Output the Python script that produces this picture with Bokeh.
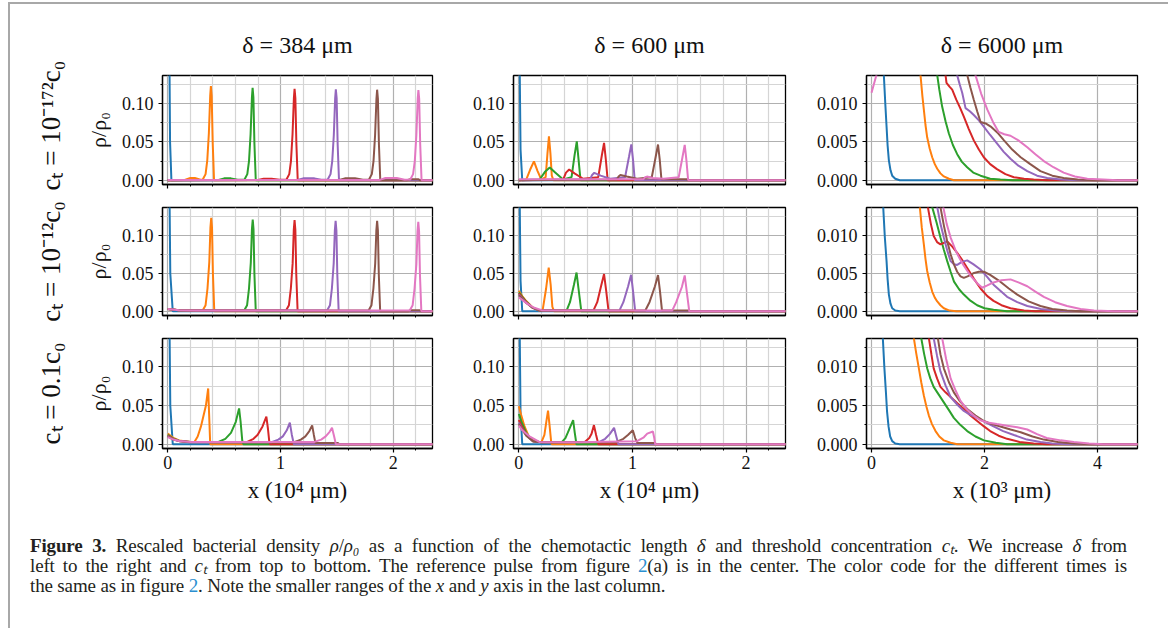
from bokeh.plotting import figure
from bokeh.models import Range1d, FixedTicker, NumeralTickFormatter, Title, Div, CustomLabelingPolicy
from bokeh.layouts import row, column
from bokeh.embed import file_html
from bokeh.resources import INLINE

# ---------------- data ----------------
COLORS = ["#1f77b4", "#ff7f0e", "#2ca02c", "#d62728", "#9467bd", "#8c564b", "#e377c2"]

COL_TITLES = ["δ = 384 μm", "δ = 600 μm", "δ = 6000 μm"]
ROW_LABELS = ["cₜ = 10⁻¹⁷²c₀", "cₜ = 10⁻¹²c₀", "cₜ = 0.1c₀"]
X_LABELS = ["x (10⁴ μm)", "x (10⁴ μm)", "x (10³ μm)"]
Y_LABEL = "ρ/ρ₀"

X_MAJOR = [[0, 1, 2], [0, 1, 2], [0, 2, 4]]
X_MINOR = [[0.2, 0.4, 0.6, 0.8, 1.2, 1.4, 1.6, 1.8, 2.2],
           [0.2, 0.4, 0.6, 0.8, 1.2, 1.4, 1.6, 1.8, 2.2], []]
Y_MAJOR = [[0, 0.05, 0.10], [0, 0.05, 0.10], [0, 0.005, 0.010]]
Y_MINOR = [[0.025, 0.075, 0.125], [0.025, 0.075, 0.125], [0.0025, 0.0075, 0.0125]]
Y_FORMAT = ["0.00", "0.00", "0.000"]
X_LIMITS = [(-0.047, 2.347), (-0.047, 2.347), (-0.089, 4.708)]
Y_LIMITS = [(-0.0055, 0.1365), (-0.0055, 0.1365), (-0.00055, 0.01365)]

# row 1, column 1  (delta = 384 um, ct = 1e-172 c0)
R1C1_X = [
    [0.0, 0.008, 0.014, 0.02, 0.032, 2.35],
    [0.0, 0.15, 0.2, 0.24, 0.29, 0.31, 0.335, 0.35, 0.364, 0.376, 0.382, 0.389, 0.398, 0.41, 2.35],
    [0.0, 0.45, 0.5, 0.56, 0.62, 0.68, 0.705, 0.72, 0.734, 0.746, 0.752, 0.759, 0.768, 0.78, 2.35],
    [0.0, 0.8, 0.85, 0.92, 0.99, 1.052, 1.077, 1.092, 1.106, 1.118, 1.124, 1.131, 1.14, 1.152, 2.35],
    [0.0, 1.15, 1.2, 1.3, 1.36, 1.418, 1.443, 1.458, 1.472, 1.484, 1.49, 1.497, 1.506, 1.518, 2.35],
    [0.0, 1.52, 1.57, 1.66, 1.73, 1.784, 1.809, 1.824, 1.838, 1.85, 1.856, 1.863, 1.872, 1.884, 2.12, 2.15, 2.22, 2.24, 2.35],
    [0.0, 1.88, 1.93, 2.03, 2.1, 2.15, 2.175, 2.19, 2.204, 2.216, 2.222, 2.229, 2.238, 2.25, 2.35],
]
R1C1_Y = [
    [0.6, 0.35, 0.17, 0.05, 0.0, 0.0],
    [0.0, 0.0005, 0.003, 0.003, 0.0008, 0.001, 0.008, 0.026, 0.061, 0.11, 0.1227, 0.11, 0.05, 0.0, 0.0],
    [0.0, 0.0005, 0.0025, 0.0025, 0.0008, 0.001, 0.008, 0.025, 0.06, 0.108, 0.1205, 0.108, 0.048, 0.0, 0.0],
    [0.0, 0.0005, 0.002, 0.002, 0.0008, 0.001, 0.008, 0.025, 0.06, 0.107, 0.119, 0.107, 0.048, 0.0, 0.0],
    [0.0, 0.0005, 0.0025, 0.0025, 0.0008, 0.001, 0.008, 0.025, 0.059, 0.107, 0.1185, 0.107, 0.047, 0.0, 0.0],
    [0.0, 0.0005, 0.0025, 0.0025, 0.0008, 0.001, 0.008, 0.025, 0.059, 0.106, 0.118, 0.106, 0.047, 0.0, 0.0, 0.0015, 0.0015, 0.0, 0.0],
    [0.0005, 0.0005, 0.003, 0.003, 0.0008, 0.001, 0.008, 0.025, 0.059, 0.106, 0.1175, 0.106, 0.047, 0.0, 0.0],
]

# row 2, column 1  (delta = 384 um, ct = 1e-12 c0)
R2C1_X = [
    [0.0, 0.008, 0.014, 0.022, 0.044, 2.35],
    [0.0, 0.1, 0.25, 0.309, 0.335, 0.352, 0.368, 0.378, 0.385, 0.392, 0.4, 0.412, 2.35],
    [0.0, 0.1, 0.25, 0.677, 0.703, 0.72, 0.736, 0.746, 0.753, 0.76, 0.768, 0.78, 2.35],
    [0.0, 0.1, 0.25, 1.048, 1.074, 1.091, 1.107, 1.117, 1.124, 1.131, 1.139, 1.151, 2.35],
    [0.0, 0.1, 0.25, 1.412, 1.438, 1.455, 1.471, 1.481, 1.488, 1.495, 1.503, 1.515, 2.35],
    [0.0, 0.1, 0.25, 1.78, 1.806, 1.823, 1.839, 1.849, 1.856, 1.863, 1.871, 1.883, 2.13, 2.15, 2.23, 2.25, 2.35],
    [0.0, 0.1, 0.25, 2.145, 2.171, 2.188, 2.204, 2.214, 2.221, 2.228, 2.236, 2.248, 2.35],
]
R2C1_Y = [
    [0.6, 0.35, 0.17, 0.05, 0.0, 0.0],
    [0.003, 0.0015, 0.001, 0.001, 0.008, 0.03, 0.065, 0.11, 0.1228, 0.11, 0.05, 0.0, 0.0],
    [0.003, 0.0015, 0.001, 0.001, 0.008, 0.03, 0.064, 0.108, 0.1207, 0.108, 0.049, 0.0, 0.0],
    [0.003, 0.0015, 0.001, 0.001, 0.008, 0.03, 0.063, 0.107, 0.1198, 0.107, 0.049, 0.0, 0.0],
    [0.003, 0.0015, 0.001, 0.001, 0.008, 0.03, 0.063, 0.106, 0.119, 0.106, 0.048, 0.0, 0.0],
    [0.003, 0.0015, 0.001, 0.001, 0.008, 0.03, 0.063, 0.106, 0.119, 0.106, 0.048, 0.0, 0.0, 0.0015, 0.0015, 0.0, 0.0],
    [0.003, 0.0015, 0.001, 0.001, 0.008, 0.03, 0.062, 0.105, 0.1175, 0.105, 0.047, 0.0, 0.0],
]

# row 3, column 1  (delta = 384 um, ct = 0.1 c0)
R3C1_X = [
    [0.0, 0.008, 0.014, 0.022, 0.044, 2.35],
    [0.0, 0.05, 0.1, 0.2, 0.236, 0.265, 0.294, 0.338, 0.358, 0.366, 0.376, 2.35],
    [0.0, 0.05, 0.1, 0.2, 0.45, 0.51, 0.56, 0.603, 0.632, 0.645, 0.66, 0.67, 2.35],
    [0.0, 0.05, 0.1, 0.2, 0.7, 0.76, 0.797, 0.84, 0.874, 0.888, 0.9, 0.906, 2.35],
    [0.0, 0.05, 0.1, 0.2, 0.92, 0.98, 1.02, 1.055, 1.082, 1.1, 1.118, 2.35],
    [0.0, 0.05, 0.1, 0.2, 1.12, 1.18, 1.22, 1.255, 1.28, 1.295, 1.309, 1.51, 1.52, 2.35],
    [0.0, 0.05, 0.1, 0.2, 1.3, 1.36, 1.4, 1.435, 1.456, 1.475, 1.49, 2.35],
]
R3C1_Y = [
    [0.6, 0.35, 0.17, 0.05, 0.0, 0.0],
    [0.0137, 0.008, 0.005, 0.003, 0.003, 0.01, 0.023, 0.05, 0.072, 0.04, 0.0, 0.0],
    [0.012, 0.007, 0.0045, 0.003, 0.003, 0.007, 0.0146, 0.029, 0.0463, 0.03, 0.005, 0.0, 0.0],
    [0.011, 0.0065, 0.0043, 0.0028, 0.0028, 0.007, 0.0123, 0.023, 0.0357, 0.02, 0.003, 0.0, 0.0],
    [0.0105, 0.0062, 0.0042, 0.0027, 0.0027, 0.006, 0.0102, 0.018, 0.0278, 0.012, 0.0, 0.0],
    [0.0102, 0.006, 0.004, 0.0026, 0.0026, 0.006, 0.0102, 0.017, 0.0243, 0.012, 0.0015, 0.0015, 0.0, 0.0],
    [0.0092, 0.006, 0.0042, 0.0028, 0.003, 0.006, 0.0102, 0.016, 0.0212, 0.01, 0.0, 0.0],
]

# row 1, column 2  (delta = 600 um, ct = 1e-172 c0)
R1C2_X = [
    [0.0, 0.004, 0.008, 0.015, 0.03, 2.35],
    [0.0, 0.065, 0.1, 0.133, 0.165, 0.198, 0.236, 0.252, 0.265, 0.278, 0.29, 0.305, 2.35],
    [0.0, 0.183, 0.23, 0.272, 0.32, 0.39, 0.464, 0.49, 0.51, 0.525, 0.543, 2.35],
    [0.0, 0.39, 0.415, 0.443, 0.49, 0.566, 0.699, 0.73, 0.75, 0.765, 0.782, 2.35],
    [0.0, 0.626, 0.645, 0.664, 0.72, 0.803, 0.935, 0.97, 0.99, 1.005, 1.02, 2.35],
    [0.0, 0.862, 0.878, 0.894, 0.95, 1.04, 1.17, 1.205, 1.225, 1.24, 1.255, 1.48, 1.49, 2.35],
    [0.0, 1.097, 1.112, 1.127, 1.18, 1.274, 1.407, 1.44, 1.46, 1.475, 1.49, 2.35],
]
R1C2_Y = [
    [0.5, 0.3, 0.14, 0.04, 0.0, 0.0],
    [0.0, 0.001, 0.014, 0.0247, 0.012, 0.001, 0.004, 0.035, 0.0574, 0.035, 0.006, 0.0, 0.0],
    [0.0, 0.001, 0.011, 0.0167, 0.01, 0.001, 0.004, 0.032, 0.0508, 0.028, 0.0, 0.0],
    [0.0, 0.001, 0.01, 0.014, 0.009, 0.002, 0.004, 0.032, 0.0486, 0.028, 0.0, 0.0],
    [0.0, 0.001, 0.007, 0.0097, 0.006, 0.002, 0.004, 0.031, 0.0468, 0.027, 0.0, 0.0],
    [0.0, 0.001, 0.005, 0.007, 0.005, 0.002, 0.004, 0.031, 0.0466, 0.027, 0.0012, 0.0012, 0.0, 0.0],
    [0.0015, 0.0015, 0.004, 0.0048, 0.003, 0.002, 0.004, 0.03, 0.046, 0.026, 0.0, 0.0],
]

# row 2, column 2  (delta = 600 um, ct = 1e-12 c0)
R2C2_X = [
    [0.0, 0.004, 0.008, 0.015, 0.03, 2.35],
    [0.0, 0.03, 0.065, 0.124, 0.18, 0.21, 0.24, 0.263, 0.28, 0.295, 0.31, 2.35],
    [0.0, 0.03, 0.065, 0.124, 0.18, 0.42, 0.45, 0.485, 0.508, 0.525, 0.55, 2.35],
    [0.0, 0.03, 0.065, 0.124, 0.18, 0.656, 0.69, 0.725, 0.75, 0.768, 0.79, 2.35],
    [0.0, 0.03, 0.065, 0.124, 0.18, 0.885, 0.92, 0.962, 0.988, 1.005, 1.024, 2.35],
    [0.0, 0.03, 0.065, 0.124, 0.18, 1.113, 1.15, 1.198, 1.225, 1.242, 1.26, 1.5, 1.51, 2.35],
    [0.0, 0.03, 0.07, 0.13, 0.2, 1.35, 1.385, 1.435, 1.46, 1.478, 1.5, 2.35],
]
R2C2_Y = [
    [0.5, 0.3, 0.14, 0.04, 0.0, 0.0],
    [0.027, 0.02, 0.0135, 0.0046, 0.001, 0.002, 0.03, 0.0576, 0.035, 0.006, 0.0, 0.0],
    [0.025, 0.019, 0.0125, 0.0045, 0.0012, 0.001, 0.012, 0.035, 0.051, 0.03, 0.0, 0.0],
    [0.0235, 0.018, 0.012, 0.0045, 0.0012, 0.001, 0.012, 0.034, 0.049, 0.028, 0.0, 0.0],
    [0.022, 0.017, 0.0115, 0.0045, 0.0012, 0.001, 0.012, 0.033, 0.048, 0.027, 0.0, 0.0],
    [0.021, 0.0165, 0.011, 0.0045, 0.0012, 0.001, 0.012, 0.033, 0.0477, 0.027, 0.001, 0.001, 0.0, 0.0],
    [0.0183, 0.015, 0.0105, 0.005, 0.0015, 0.001, 0.012, 0.032, 0.0471, 0.026, 0.0, 0.0],
]

# row 3, column 2  (delta = 600 um, ct = 0.1 c0)
R3C2_X = [
    [0.0, 0.004, 0.008, 0.015, 0.03, 2.35],
    [0.0, 0.02, 0.05, 0.094, 0.153, 0.2, 0.225, 0.245, 0.257, 0.27, 0.285, 0.29, 2.35],
    [0.0, 0.02, 0.065, 0.124, 0.2, 0.38, 0.41, 0.43, 0.46, 0.478, 0.492, 0.507, 2.35],
    [0.0, 0.02, 0.065, 0.124, 0.2, 0.58, 0.62, 0.64, 0.661, 0.68, 0.7, 2.35],
    [0.0, 0.02, 0.065, 0.124, 0.2, 0.71, 0.76, 0.8, 0.838, 0.858, 0.876, 2.35],
    [0.0, 0.02, 0.065, 0.124, 0.2, 0.86, 0.92, 0.96, 1.003, 1.024, 1.044, 1.2, 1.21, 2.35],
    [0.0, 0.03, 0.094, 0.18, 0.5, 1.04, 1.1, 1.13, 1.18, 1.192, 1.2, 2.35],
]
R3C2_Y = [
    [0.5, 0.3, 0.14, 0.04, 0.0, 0.0],
    [0.049, 0.038, 0.023, 0.008, 0.003, 0.003, 0.012, 0.032, 0.0433, 0.025, 0.002, 0.0, 0.0],
    [0.039, 0.03, 0.0146, 0.004, 0.0025, 0.003, 0.008, 0.0146, 0.025, 0.031, 0.015, 0.0, 0.0],
    [0.0313, 0.025, 0.0125, 0.004, 0.0025, 0.003, 0.008, 0.0135, 0.0247, 0.012, 0.0, 0.0],
    [0.0278, 0.022, 0.0115, 0.004, 0.0025, 0.003, 0.007, 0.013, 0.0212, 0.01, 0.0, 0.0],
    [0.026, 0.021, 0.011, 0.004, 0.0025, 0.003, 0.007, 0.012, 0.018, 0.008, 0.0015, 0.0015, 0.0, 0.0],
    [0.024, 0.018, 0.0102, 0.003, 0.0025, 0.004, 0.009, 0.0137, 0.0164, 0.008, 0.0, 0.0],
]

# row 1, column 3  (delta = 6000 um, ct = 1e-172 c0), x in 10^3 um
R1C3_X = [
    [0.0, 0.19, 0.218, 0.245, 0.266, 0.285, 0.307, 0.336, 0.366, 0.42, 0.5, 4.75],
    [0.0, 0.75, 0.867, 0.9, 0.926, 0.955, 0.985, 1.03, 1.074, 1.12, 1.163, 1.22, 1.28, 1.37, 1.46, 4.75],
    [0.0, 1.0, 1.163, 1.2, 1.25, 1.31, 1.369, 1.44, 1.516, 1.6, 1.693, 1.8, 1.93, 2.1, 2.28, 2.5, 4.75],
    [0.0, 1.2, 1.31, 1.327, 1.38, 1.428, 1.5, 1.57, 1.634, 1.72, 1.81, 1.9, 1.987, 2.1, 2.22, 2.37, 2.52, 2.7, 2.87, 3.1, 4.75],
    [0.0, 1.4, 1.516, 1.56, 1.605, 1.664, 1.74, 1.81, 1.9, 1.987, 2.1, 2.22, 2.34, 2.46, 2.6, 2.757, 2.93, 3.11, 3.35, 3.58, 4.75],
    [0.0, 1.6, 1.694, 1.75, 1.81, 1.87, 1.93, 2.02, 2.11, 2.23, 2.345, 2.49, 2.64, 2.81, 2.99, 3.2, 3.4, 3.65, 3.94, 4.75],
    [0.0, 0.045, 0.09, 0.5, 1.7, 1.84, 1.94, 2.05, 2.15, 2.25, 2.35, 2.46, 2.6, 2.757, 2.9, 3.05, 3.22, 3.4, 3.6, 3.82, 4.1, 4.35, 4.75],
]
R1C3_Y = [
    [0.1, 0.03, 0.0137, 0.0098, 0.007, 0.0045, 0.0026, 0.0013, 0.0006, 0.0002, 0.0, 0.0],
    [0.3, 0.025, 0.0137, 0.011, 0.0092, 0.0072, 0.0056, 0.0041, 0.003, 0.0021, 0.0015, 0.0009, 0.0005, 0.0002, 0.0, 0.0],
    [0.3, 0.03, 0.0137, 0.0118, 0.0096, 0.0077, 0.0061, 0.0046, 0.0034, 0.0024, 0.0017, 0.001, 0.0006, 0.0002, 0.0001, 0.0, 0.0],
    [0.3, 0.03, 0.0137, 0.0127, 0.0122, 0.0118, 0.0105, 0.0094, 0.0083, 0.0067, 0.0052, 0.004, 0.003, 0.0021, 0.00146, 0.0008, 0.0004, 0.0002, 0.0001, 0.0, 0.0],
    [0.3, 0.03, 0.0137, 0.0125, 0.0114, 0.0094, 0.009, 0.0085, 0.0078, 0.007, 0.0059, 0.0048, 0.0037, 0.0028, 0.0019, 0.0012, 0.0006, 0.0003, 0.0001, 0.0, 0.0],
    [0.3, 0.03, 0.0137, 0.0121, 0.0105, 0.009, 0.0076, 0.0074, 0.007, 0.0062, 0.0052, 0.004, 0.003, 0.0021, 0.0012, 0.0006, 0.0003, 0.0001, 0.0, 0.0],
    [0.0114, 0.0126, 0.0138, 0.03, 0.025, 0.0137, 0.0113, 0.0092, 0.0076, 0.0063, 0.006, 0.0058, 0.0052, 0.0043, 0.0034, 0.0025, 0.0017, 0.001, 0.0005, 0.0002, 0.0001, 0.0, 0.0],
]

# row 2, column 3  (delta = 6000 um, ct = 1e-12 c0)
R2C3_X = [
    [0.0, 0.18, 0.207, 0.235, 0.266, 0.285, 0.307, 0.336, 0.366, 0.42, 0.5, 4.75],
    [0.0, 0.75, 0.855, 0.89, 0.926, 0.955, 0.985, 1.03, 1.074, 1.12, 1.163, 1.22, 1.28, 1.38, 1.5, 4.75],
    [0.0, 1.0, 1.074, 1.15, 1.22, 1.28, 1.34, 1.4, 1.46, 1.55, 1.634, 1.75, 1.87, 2.0, 2.16, 2.4, 4.75],
    [0.0, 0.9, 0.997, 1.05, 1.1, 1.16, 1.22, 1.28, 1.34, 1.43, 1.516, 1.6, 1.694, 1.81, 1.93, 2.05, 2.16, 2.3, 2.46, 2.7, 2.9, 4.75],
    [0.0, 1.05, 1.163, 1.22, 1.28, 1.34, 1.4, 1.46, 1.516, 1.6, 1.694, 1.8, 1.93, 2.05, 2.16, 2.28, 2.4, 2.58, 2.757, 3.0, 3.24, 3.5, 4.75],
    [0.0, 1.1, 1.22, 1.28, 1.34, 1.4, 1.457, 1.516, 1.575, 1.634, 1.7, 1.8, 1.9, 1.99, 2.1, 2.2, 2.28, 2.43, 2.58, 2.78, 2.99, 3.2, 3.46, 3.7, 4.75],
    [0.0, 1.15, 1.27, 1.33, 1.4, 1.5, 1.57, 1.634, 1.75, 1.87, 1.96, 2.05, 2.16, 2.3, 2.46, 2.6, 2.757, 2.9, 3.05, 3.25, 3.46, 3.7, 3.94, 4.3, 4.75],
]
R2C3_Y = [
    [0.1, 0.03, 0.0137, 0.0098, 0.0066, 0.0042, 0.0022, 0.001, 0.0004, 0.0001, 0.0, 0.0],
    [0.3, 0.025, 0.0137, 0.011, 0.0088, 0.0069, 0.0053, 0.0038, 0.0026, 0.0018, 0.0013, 0.0008, 0.0004, 0.0001, 0.0, 0.0],
    [0.3, 0.02, 0.0137, 0.0117, 0.0097, 0.0081, 0.0066, 0.0052, 0.0039, 0.0029, 0.0022, 0.0014, 0.0008, 0.0004, 0.0002, 0.0, 0.0],
    [0.3, 0.03, 0.0137, 0.0115, 0.0099, 0.0091, 0.0088, 0.009, 0.0092, 0.0085, 0.0077, 0.0068, 0.0057, 0.0043, 0.003, 0.002, 0.00137, 0.0008, 0.0004, 0.0001, 0.0, 0.0],
    [0.3, 0.03, 0.0137, 0.0115, 0.0097, 0.008, 0.0066, 0.0062, 0.0061, 0.0065, 0.0067, 0.0062, 0.0055, 0.0045, 0.0035, 0.0027, 0.0019, 0.0012, 0.0007, 0.0003, 0.0001, 0.0, 0.0],
    [0.3, 0.03, 0.0137, 0.0113, 0.0092, 0.0075, 0.0062, 0.0052, 0.0046, 0.0044, 0.0046, 0.005, 0.0052, 0.0052, 0.0048, 0.0043, 0.0039, 0.003, 0.0022, 0.0013, 0.0007, 0.0003, 0.0001, 0.0, 0.0],
    [0.3, 0.03, 0.0137, 0.0115, 0.0097, 0.0078, 0.0068, 0.006, 0.0047, 0.0037, 0.0031, 0.0034, 0.0038, 0.0041, 0.0042, 0.0038, 0.0033, 0.0026, 0.0019, 0.0012, 0.0007, 0.0003, 0.0001, 0.0, 0.0],
]

# row 3, column 3  (delta = 6000 um, ct = 0.1 c0)
R3C3_X = [
    [0.0, 0.17, 0.2, 0.228, 0.254, 0.275, 0.301, 0.33, 0.366, 0.42, 0.5, 4.75],
    [0.0, 0.65, 0.749, 0.79, 0.838, 0.88, 0.926, 0.97, 1.015, 1.07, 1.133, 1.2, 1.28, 1.4, 1.516, 4.75],
    [0.0, 0.78, 0.88, 0.93, 0.985, 1.04, 1.1, 1.19, 1.28, 1.37, 1.457, 1.57, 1.694, 1.84, 1.99, 2.2, 2.4, 4.75],
    [0.0, 0.9, 1.015, 1.06, 1.1, 1.16, 1.22, 1.31, 1.4, 1.52, 1.634, 1.75, 1.87, 1.99, 2.1, 2.25, 2.4, 2.62, 2.87, 3.1, 4.75],
    [0.0, 1.0, 1.1, 1.16, 1.22, 1.31, 1.4, 1.52, 1.634, 1.75, 1.87, 2.0, 2.16, 2.33, 2.52, 2.75, 2.99, 3.2, 3.46, 4.75],
    [0.0, 1.07, 1.174, 1.22, 1.28, 1.37, 1.457, 1.57, 1.694, 1.84, 1.99, 2.13, 2.28, 2.46, 2.64, 2.85, 3.05, 3.3, 3.58, 3.9, 4.75],
    [0.0, 1.15, 1.25, 1.32, 1.4, 1.49, 1.575, 1.69, 1.81, 1.93, 2.05, 2.22, 2.4, 2.58, 2.757, 2.93, 3.1, 3.35, 3.58, 3.85, 4.1, 4.75],
]
R3C3_Y = [
    [0.1, 0.03, 0.0137, 0.0098, 0.0068, 0.0042, 0.0023, 0.001, 0.0004, 0.0001, 0.0, 0.0],
    [0.3, 0.025, 0.0137, 0.0118, 0.0098, 0.008, 0.0063, 0.0049, 0.0037, 0.0026, 0.0017, 0.001, 0.0005, 0.0002, 0.0, 0.0],
    [0.3, 0.025, 0.0137, 0.0117, 0.0098, 0.0085, 0.0074, 0.0064, 0.0054, 0.0044, 0.0034, 0.0025, 0.0017, 0.001, 0.0005, 0.0002, 0.0, 0.0],
    [0.3, 0.025, 0.0137, 0.0116, 0.0098, 0.0085, 0.0074, 0.0067, 0.0061, 0.0053, 0.00455, 0.0037, 0.003, 0.0023, 0.0017, 0.0011, 0.0007, 0.0003, 0.0001, 0.0, 0.0],
    [0.3, 0.025, 0.0137, 0.0114, 0.0094, 0.0076, 0.0061, 0.0051, 0.0043, 0.0038, 0.0034, 0.0029, 0.0023, 0.0017, 0.0012, 0.0006, 0.0003, 0.0001, 0.0, 0.0],
    [0.3, 0.025, 0.0137, 0.0116, 0.0098, 0.008, 0.0067, 0.0055, 0.00455, 0.0037, 0.003, 0.0026, 0.0023, 0.0019, 0.00155, 0.001, 0.0006, 0.0003, 0.0001, 0.0, 0.0],
    [0.3, 0.025, 0.0137, 0.011, 0.0085, 0.0069, 0.0056, 0.0045, 0.0037, 0.0031, 0.0028, 0.0026, 0.0024, 0.0022, 0.0019, 0.0013, 0.0008, 0.0005, 0.0003, 0.0001, 0.0, 0.0],
]

PANELS = [
    [(R1C1_X, R1C1_Y), (R1C2_X, R1C2_Y), (R1C3_X, R1C3_Y)],
    [(R2C1_X, R2C1_Y), (R2C2_X, R2C2_Y), (R2C3_X, R2C3_Y)],
    [(R3C1_X, R3C1_Y), (R3C2_X, R3C2_Y), (R3C3_X, R3C3_Y)],
]

# ---------------- layout / style ----------------
SERIF = "Liberation Serif"
COLS = [(152, 8, 270), (73, 10, 272), (71, 24, 271)]   # left border, right border, frame width
ROWS = [(71, 11, 109), (12, 11, 108), (12, 66, 110)]   # top border, bottom border, frame height
ROW_ALIGN = [("left", -6), ("center", 0), ("center", 0)]


def panel(r, c, xs, ys):
    left, right, fw = COLS[c]
    top, bottom, fh = ROWS[r]
    p = figure(width=left + fw + right, height=top + fh + bottom,
               output_backend="svg", toolbar_location=None,
               x_range=Range1d(*X_LIMITS[c]), y_range=Range1d(*Y_LIMITS[c]),
               min_border_left=left, min_border_right=right,
               min_border_top=top, min_border_bottom=bottom,
               background_fill_color="white", border_fill_color="white",
               outline_line_color="black", outline_line_width=1.3, outline_line_alpha=1.0)
    p.title.visible = False
    xt = FixedTicker(ticks=X_MAJOR[c], minor_ticks=X_MINOR[c])
    yt = FixedTicker(ticks=Y_MAJOR[c], minor_ticks=Y_MINOR[c])
    p.xaxis.ticker = xt
    p.yaxis.ticker = yt
    p.xgrid.ticker = xt
    p.ygrid.ticker = yt
    for g in (p.xgrid, p.ygrid):
        g.grid_line_color = "#b0b0b0"
        g.grid_line_width = 1.2
        g.minor_grid_line_color = "#d5d5d5"
        g.minor_grid_line_width = 1.2
    if not X_MINOR[c]:
        p.xgrid.minor_grid_line_color = None

    p.xaxis.formatter = NumeralTickFormatter(format="0")
    p.yaxis.formatter = NumeralTickFormatter(format=Y_FORMAT[c])
    for ax in (p.xaxis, p.yaxis):
        ax.axis_line_color = "black"
        ax.axis_line_width = 1.3
        ax.major_tick_in = 0
        ax.major_tick_out = 4
        ax.minor_tick_in = 0
        ax.minor_tick_out = 2
        ax.major_tick_line_color = "black"
        ax.minor_tick_line_color = "black"
        ax.major_tick_line_width = 1.2
        ax.minor_tick_line_width = 1.0
        ax.major_label_text_font = SERIF
        ax.major_label_text_font_size = "18px"
        ax.major_label_text_color = "#111111"
        ax.axis_label_text_font = SERIF
        ax.axis_label_text_font_style = "normal"
        ax.axis_label_text_font_size = "23px"
        ax.axis_label_text_color = "#111111"
    p.yaxis.major_label_standoff = 5
    p.xaxis.major_label_standoff = 3
    if r < 2:
        # shared x axis: tick marks only, no tick labels
        p.xaxis.major_label_text_font_size = "0px"
        p.xaxis.major_label_policy = CustomLabelingPolicy(
            code="for (const i of Array.from(indices)) { indices.unset(i) }")
    else:
        p.xaxis.axis_label = X_LABELS[c]
        p.xaxis.axis_label_standoff = 6
    if c == 0:
        p.yaxis.axis_label = Y_LABEL
        p.yaxis.axis_label_text_font_size = "22px"
        p.yaxis.axis_label_standoff = 8
        align, off = ROW_ALIGN[r]
        p.add_layout(Title(text=ROW_LABELS[r], align=align, offset=off,
                           text_font=SERIF, text_font_size="27px",
                           text_font_style="normal", text_color="#111111",
                           standoff=34), "left")
    if r == 0:
        p.add_layout(Title(text=COL_TITLES[c], align="center",
                           text_font=SERIF, text_font_size="24px",
                           text_font_style="normal", text_color="#111111",
                           standoff=36), "above")

    for x, y, col in zip(xs, ys, COLORS):
        p.line(x, y, line_color=col, line_width=2.0)
    return p


rows = []
for r in range(3):
    rows.append(row(*[panel(r, c, *PANELS[r][c]) for c in range(3)]))

LINK = "color:#2b8fd0"
line1 = ('<b>Figure 3.</b> Rescaled bacterial density <i>ρ</i>/<i>ρ₀</i> as a function '
         'of the chemotactic length <i>δ</i> and threshold concentration <i>cₜ</i>. '
         'We increase <i>δ</i> from')
line2 = ('left to the right and <i>cₜ</i> from top to bottom. The reference pulse from '
         'figure <span style="%s">2</span>(a) is in the center. The color code for the different times is'
         % LINK)
line3 = ('the same as in figure <span style="%s">2</span>. Note the smaller ranges of the <i>x</i> and '
         '<i>y</i> axis in the last column.' % LINK)
caption_html = (
    '<div style="font-family:\'Liberation Serif\';font-size:19px;line-height:20px;color:#231f20;'
    'padding:17px 0 0 15px;width:1112px;letter-spacing:-0.15px;">'
    '<div style="text-align:justify;text-align-last:justify;white-space:nowrap;">%s</div>'
    '<div style="text-align:justify;text-align-last:justify;white-space:nowrap;">%s</div>'
    '<div style="white-space:nowrap;">%s</div></div>' % (line1, line2, line3)
)
caption = Div(text=caption_html, width=1151, height=108)

p = column(*rows, caption,
           styles={"border-top": "2px solid #a8a8a8", "border-left": "2px solid #a8a8a8",
                   "border-right": "2px solid #a8a8a8", "margin-left": "8px",
                   "margin-top": "2px", "background-color": "white"})

open("out.html", "w").write(file_html(p, INLINE))
